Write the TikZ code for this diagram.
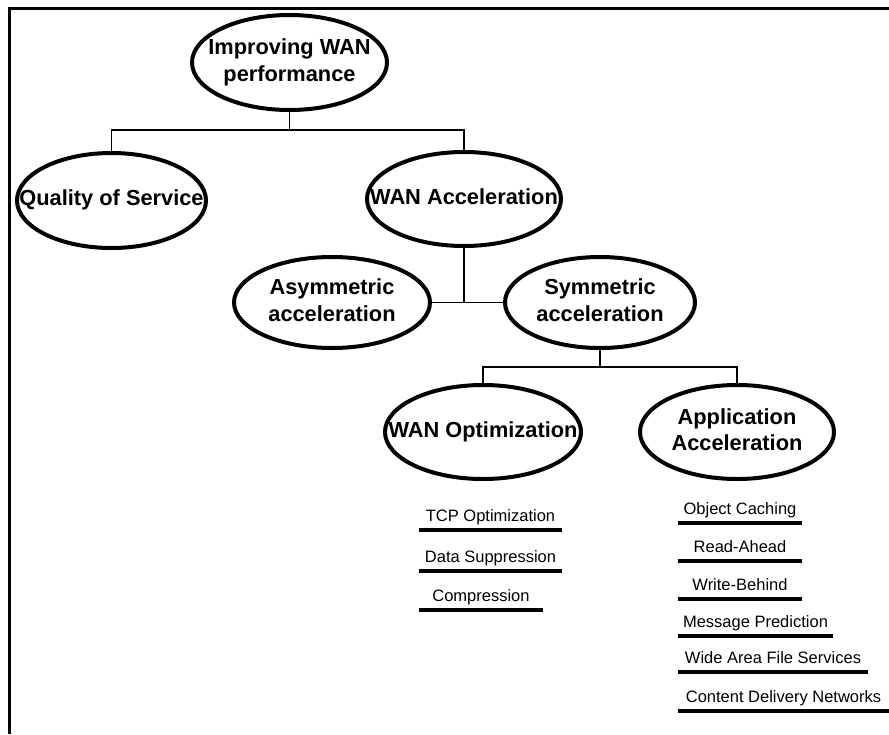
\documentclass[tikz,border=0pt]{standalone}
\usepackage{fontspec}
\setmainfont{Liberation Sans}
\usetikzlibrary{shapes.geometric}
% centred text that does not widen the ellipse around it
\newcommand{\ctrtext}[1]{\makebox[0pt]{\begin{tabular}{@{}c@{}}#1\end{tabular}}}

\begin{document}
\begin{tikzpicture}[x=1pt,y=-1pt,
  topic/.style={ellipse, draw, line width=4pt, inner sep=0pt,
    font=\fontsize{21.8}{26.5}\selectfont\bfseries},
  conn/.style={line width=1.1pt},
  item/.style={anchor=south, inner sep=0pt, text depth=8pt,
    font=\fontsize{16.5}{19.8}\selectfont},
  uline/.style={line width=3.8pt},
  frame/.style={line width=3pt}
]
\useasboundingbox (0,0) rectangle (889,734);

% page frame
\draw[frame] (9.7,734) -- (9.7,8) -- (889,8);

% topics
\node[topic, minimum width=195pt, minimum height=95pt] (root) at (289.5,62.5)
  {\ctrtext{Improving WAN\\performance}};
\node[topic, minimum width=189pt, minimum height=95pt] (qos) at (111.5,200.5)
  {\ctrtext{Quality of Service}};
\node[topic, minimum width=194pt, minimum height=94pt] (wanacc) at (464,199)
  {\ctrtext{WAN Acceleration}};
\node[topic, minimum width=196pt, minimum height=91pt] (asym) at (332,302.5)
  {\ctrtext{Asymmetric\\acceleration}};
\node[topic, minimum width=190pt, minimum height=91pt] (sym) at (600,302.5)
  {\ctrtext{Symmetric\\acceleration}};
\node[topic, minimum width=196pt, minimum height=94pt] (wanopt) at (483,432)
  {\ctrtext{WAN Optimization}};
\node[topic, minimum width=194pt, minimum height=94pt] (appacc) at (737,432)
  {\ctrtext{Application\\Acceleration}};

% tree connectors
\coordinate (j1) at ([yshift=-18pt]root.south);
\draw[conn] (root.south) -- (j1);
\draw[conn] (qos.north) |- (j1) -| (wanacc.north);

\draw[conn] (wanacc.south) -- (wanacc.south |- asym.east);
\draw[conn] (asym.east) -- (sym.west);

\coordinate (j3) at ([yshift=-17pt]sym.south);
\draw[conn] (sym.south) -- (j3);
\draw[conn] (wanopt.north) |- (j3) -| (appacc.north);

% WAN optimization techniques
\node[item, minimum width=143pt] (tcp)  at (490.5,530) {TCP Optimization};
\node[item, minimum width=143pt] (dsup) at (490.5,571) {Data Suppression};
\node[item, minimum width=124pt] (comp) at (481,610)   {Compression};

% application acceleration techniques
\node[item, minimum width=124pt] (objc) at (740,523)   {Object Caching};
\node[item, minimum width=124pt] (rdah) at (740,561)   {Read-Ahead};
\node[item, minimum width=124pt] (wrbh) at (740,599)   {Write-Behind};
\node[item, minimum width=155pt] (msgp) at (755.5,636) {Message Prediction};
\node[item, minimum width=190pt] (wafs) at (773,672)   {Wide Area File Services};
\node[item, minimum width=211pt] (cdn)  at (783.5,711) {Content Delivery Networks};

\foreach \n in {tcp,dsup,comp,objc,rdah,wrbh,msgp,wafs,cdn}
  \draw[uline] (\n.south west) -- (\n.south east);
\end{tikzpicture}
\end{document}
